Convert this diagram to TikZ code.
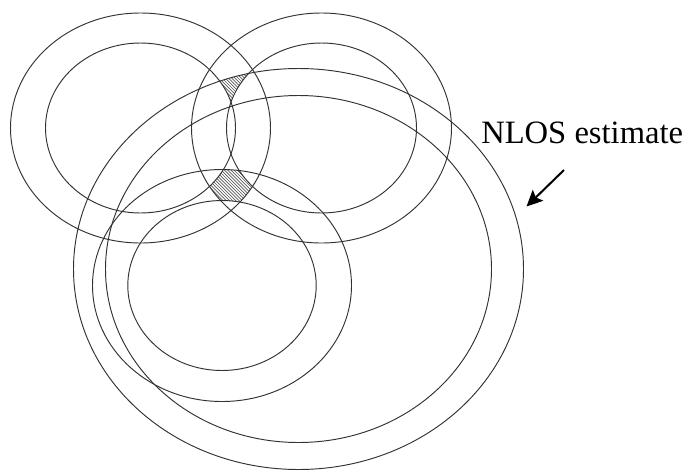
\documentclass[tikz,border=0pt]{standalone}
\usepackage{fontspec}
\setmainfont{Liberation Serif}
\usetikzlibrary{arrows.meta}
\begin{document}
\begin{tikzpicture}[x=1pt,y=-1pt,
  ring/.style={draw=black!80,line width=0.95pt},
  hatchline/.style={draw=black!65,line width=0.7pt},
  label/.style={font=\fontsize{32.6pt}{36pt}\selectfont,inner sep=0pt,anchor=base},
  pointer/.style={line width=2pt,-{Stealth[length=16pt,width=15pt,inset=3pt]}}]
\useasboundingbox (0,0) rectangle (690,469);
% centres
\coordinate (tl) at (140.5,128);
\coordinate (tr) at (321.5,128);
\coordinate (bt) at (222,285.5);
\coordinate (bg) at (298.5,269);
% hatched region 1: TL ring, TR ring, big ring
\begin{scope}[even odd rule]
  \clip (tl) ellipse [x radius=130pt,y radius=115pt] (tl) ellipse [x radius=95pt,y radius=85pt];
  \clip (tr) ellipse [x radius=130pt,y radius=115pt] (tr) ellipse [x radius=95pt,y radius=85pt];
  \clip (bg) ellipse [x radius=225pt,y radius=200.5pt] (bg) ellipse [x radius=193pt,y radius=173.5pt];
  \foreach \c in {0,3.2,...,220} \draw[hatchline] (\c+20,20) -- (\c+240,240);
\end{scope}
% hatched region 2: TL ring, TR ring, bottom ring
\begin{scope}[even odd rule]
  \clip (tl) ellipse [x radius=130pt,y radius=115pt] (tl) ellipse [x radius=95pt,y radius=85pt];
  \clip (tr) ellipse [x radius=130pt,y radius=115pt] (tr) ellipse [x radius=95pt,y radius=85pt];
  \clip (bt) ellipse [x radius=129.5pt,y radius=116pt] (bt) ellipse [x radius=94.2pt,y radius=85pt];
  \foreach \c in {0,3.2,...,220} \draw[hatchline] (\c+20,20) -- (\c+240,240);
\end{scope}
% rings
\draw[ring] (tl) ellipse [x radius=130pt,y radius=115pt];
\draw[ring] (tl) ellipse [x radius=95pt,y radius=85pt];
\draw[ring] (tr) ellipse [x radius=130pt,y radius=115pt];
\draw[ring] (tr) ellipse [x radius=95pt,y radius=85pt];
\draw[ring] (bt) ellipse [x radius=129.5pt,y radius=116pt];
\draw[ring] (bt) ellipse [x radius=94.2pt,y radius=85pt];
\draw[ring] (bg) ellipse [x radius=225pt,y radius=200.5pt];
\draw[ring] (bg) ellipse [x radius=193pt,y radius=173.5pt];
% label and arrow
\node[label] (lbl) at (582.2,143.3) {NLOS estimate};
\coordinate (ps) at (564,170);
\coordinate (pe) at (526.5,206.5);
\draw[pointer] (ps) -- (pe);
\end{tikzpicture}
\end{document}
